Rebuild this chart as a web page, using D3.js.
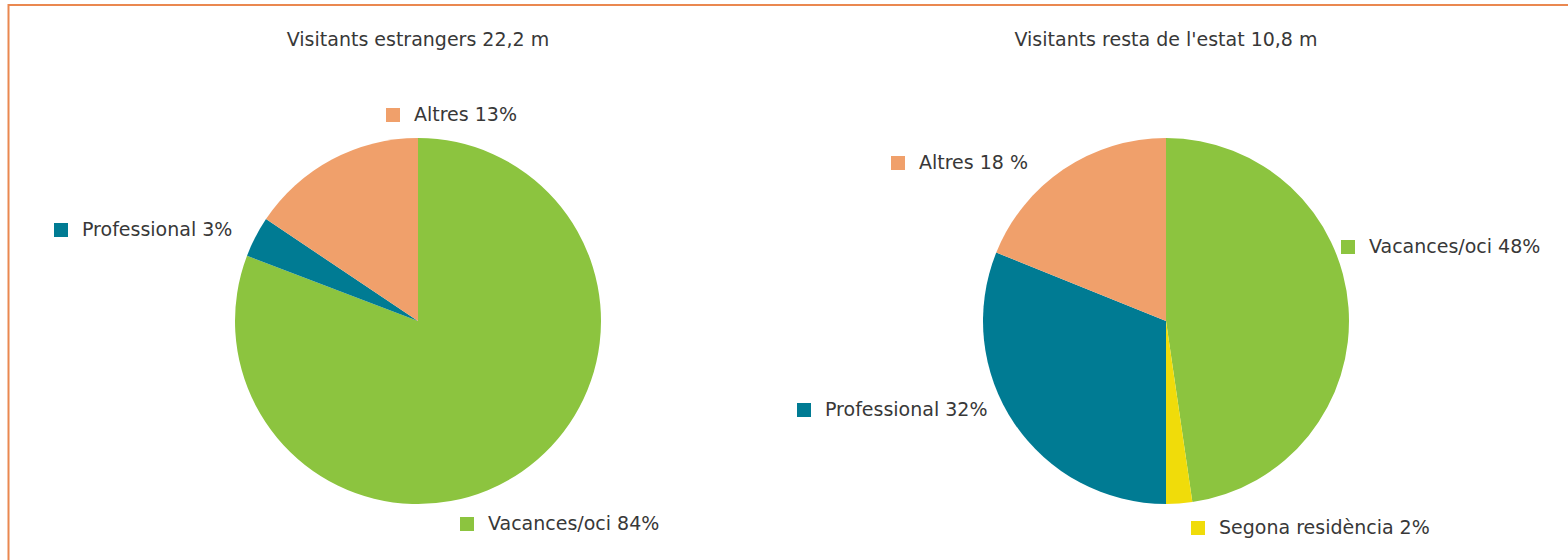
<!DOCTYPE html>
<html>
<head>
<meta charset="utf-8">
<script src="https://cdn.jsdelivr.net/npm/d3@7"></script>
<style>
  body { margin: 0; background: #fff; }
  text { font-family: "DejaVu Sans", sans-serif; fill: #383838; }
</style>
</head>
<body>
<div id="container"></div>
<script>
var width = 1568,
    height = 560;

// data (slice shares as drawn in the picture, labels as printed)
var estrangersCats = ["Vacances/oci", "Professional", "Altres"];
var estrangersVals = [80.8, 3.6, 15.6];
var estrangersLabels = ["Vacances/oci 84%", "Professional 3%", "Altres 13%"];

var restaCats = ["Vacances/oci", "Segona residència", "Professional", "Altres"];
var restaVals = [47.7, 2.3, 31.1, 18.9];
var restaLabels = ["Vacances/oci 48%", "Segona residència 2%", "Professional 32%", "Altres 18 %"];

var titles = ["Visitants estrangers 22,2 m", "Visitants resta de l'estat 10,8 m"];

var colors = {
    "Vacances/oci": "#8cc43f",
    "Professional": "#007b93",
    "Altres": "#f0a06b",
    "Segona residència": "#f0dc0a"
};

// label anchors (square's left edge / vertical middle) for each pie
var labelPos = [
    { "Vacances/oci": [460, 524], "Professional": [54, 230], "Altres": [386, 115] },
    { "Vacances/oci": [1341, 247], "Segona residència": [1191, 528], "Professional": [797, 410], "Altres": [891, 163] }
];

var svg = d3.select("#container")
    .append("svg")
    .attr("width", width)
    .attr("height", height);

// orange frame
svg.append("path")
    .attr("d", "M8.5," + height + "V5H" + width)
    .attr("fill", "none")
    .attr("stroke", "#ea8850")
    .attr("stroke-width", 2);

var radius = 183;
var pie = d3.pie().sort(null).value(function (d) { return d.value; });
var arc = d3.arc().innerRadius(0).outerRadius(radius);

function makePie(i, cx, cats, vals, labels) {
    var data = cats.map(function (c, j) {
        return { cat: c, value: vals[j], label: labels[j] };
    });

    var g = svg.append("g")
        .attr("transform", "translate(" + cx + ",321)");

    g.selectAll("path")
        .data(pie(data))
        .enter()
        .append("path")
        .attr("d", arc)
        .attr("fill", function (d) { return colors[d.data.cat]; });

    svg.append("text")
        .attr("x", cx)
        .attr("y", 46)
        .attr("text-anchor", "middle")
        .attr("font-size", 19)
        .text(titles[i]);

    var lab = svg.selectAll(".lab" + i)
        .data(data)
        .enter()
        .append("g")
        .attr("class", "lab" + i)
        .attr("transform", function (d) {
            var p = labelPos[i][d.cat];
            return "translate(" + p[0] + "," + p[1] + ")";
        });

    lab.append("rect")
        .attr("x", 0)
        .attr("y", -7)
        .attr("width", 14)
        .attr("height", 14)
        .attr("fill", function (d) { return colors[d.cat]; });

    lab.append("text")
        .attr("x", 28)
        .attr("y", 6)
        .attr("font-size", 19)
        .text(function (d) { return d.label; });
}

makePie(0, 418, estrangersCats, estrangersVals, estrangersLabels);
makePie(1, 1166, restaCats, restaVals, restaLabels);
</script>
</body>
</html>
